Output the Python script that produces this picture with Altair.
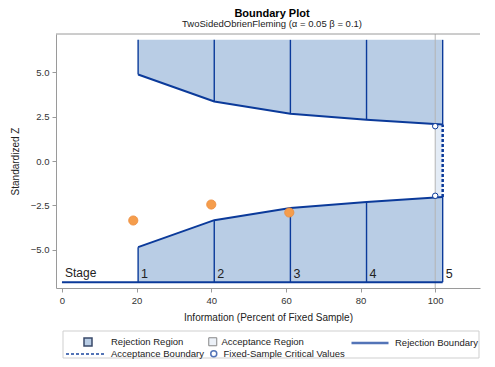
import altair as alt
import pandas as pd

# ---------------- data ----------------
stage_info = [20.4, 40.8, 61.2, 81.6, 102.0]
upper_bound = [4.87, 3.35, 2.66, 2.32, 2.05]
lower_bound = [-4.85, -3.33, -2.65, -2.31, -2.03]
stage_labels = ["1", "2", "3", "4", "5"]
region_limit = 6.82
stage_axis_start = 0
fixed_info = 100
fixed_crit = [1.96, -1.96]
obs_info = [19.1, 40.0, 60.9]
obs_z = [-3.35, -2.45, -2.90]
x_ticks = [0, 20, 40, 60, 80, 100]
y_ticks = [-5, -2.5, 0, 2.5, 5]
legend_items = ["Rejection Region", "Acceptance Region", "Rejection Boundary",
                "Acceptance Boundary", "Fixed-Sample Critical Values"]

# ---------------- styling ----------------
W, H = 424, 254
BLUE = "#0b3a9a"
FILL = "#b9cde5"
PALE = "#e4ecf6"
GRAY = "#9a9a9a"
FONT = "Liberation Sans"
LFS = 9.5

stages = pd.DataFrame({"info": stage_info, "upper": upper_bound, "lower": lower_bound,
                       "label": stage_labels, "top": region_limit, "bottom": -region_limit})
final = pd.DataFrame({"x0": [fixed_info], "x1": [stage_info[-1]],
                      "lo": [lower_bound[-1]], "hi": [upper_bound[-1]]})
baseline = pd.DataFrame({"x0": [stage_axis_start], "x1": [stage_info[-1]],
                         "y": [-region_limit], "label": ["Stage"]})
crit = pd.DataFrame({"info": [fixed_info] * len(fixed_crit), "z": fixed_crit})
obs = pd.DataFrame({"info": obs_info, "z": obs_z})
leg = pd.DataFrame({"item": legend_items})

xs = alt.Scale(domain=[-1.6, 112], nice=False, zero=False)
ys = alt.Scale(domain=[-7.15, 7.15], nice=False, zero=False)
x_axis = alt.Axis(values=x_ticks, format="d", title="Information (Percent of Fixed Sample)")
y_axis = alt.Axis(values=y_ticks, format=".1f", title="Standardized Z")


def X(f):
    return alt.X(f, scale=xs, axis=x_axis)


def Y(f):
    return alt.Y(f, scale=ys, axis=y_axis)


upper_area = alt.Chart(stages).mark_area(color=FILL, opacity=1).encode(
    x=X("info:Q"), y=Y("upper:Q"), y2="top:Q")
lower_area = alt.Chart(stages).mark_area(color=FILL, opacity=1).encode(
    x=X("info:Q"), y=Y("bottom:Q"), y2="lower:Q")

accept = alt.Chart(final).mark_rect(color=PALE, opacity=1).encode(
    x=X("x0:Q"), x2="x1:Q", y=Y("lo:Q"), y2="hi:Q")

ref_line = alt.Chart(crit.head(1)).mark_rule(color="#b4b4b4", strokeWidth=1).encode(
    x=X("info:Q"))

upper_line = alt.Chart(stages).mark_line(color=BLUE, strokeWidth=2).encode(
    x=X("info:Q"), y=Y("upper:Q"))
lower_line = alt.Chart(stages).mark_line(color=BLUE, strokeWidth=2).encode(
    x=X("info:Q"), y=Y("lower:Q"))

stage_up = alt.Chart(stages).mark_rule(color=BLUE, strokeWidth=1.4).encode(
    x=X("info:Q"), y=Y("upper:Q"), y2="top:Q")
stage_dn = alt.Chart(stages).mark_rule(color=BLUE, strokeWidth=1.4).encode(
    x=X("info:Q"), y=Y("bottom:Q"), y2="lower:Q")

base_rule = alt.Chart(baseline).mark_rule(color=BLUE, strokeWidth=2).encode(
    x=X("x0:Q"), x2="x1:Q", y=Y("y:Q"))

accept_bound = alt.Chart(final).mark_rule(color=BLUE, strokeWidth=2.5, strokeDash=[3, 2]).encode(
    x=X("x1:Q"), y=Y("lo:Q"), y2="hi:Q")

crit_pts = alt.Chart(crit).mark_point(shape="circle", size=30, color=BLUE, filled=False,
                                      strokeWidth=1, fill="white", fillOpacity=1).encode(
    x=X("info:Q"), y=Y("z:Q"))

obs_pts = alt.Chart(obs).mark_circle(size=85, color="#f59d4c", opacity=1,
                                     stroke="#ec8a3a", strokeWidth=0.8).encode(
    x=X("info:Q"), y=Y("z:Q"))

stage_text = alt.Chart(baseline).mark_text(align="left", baseline="alphabetic", dx=3, dy=-5,
                                           fontSize=12, font=FONT, color="#222").encode(
    x=X("x0:Q"), y=Y("y:Q"), text="label:N")
stage_nums = alt.Chart(stages).mark_text(align="left", baseline="alphabetic", dx=3, dy=-4,
                                         fontSize=12.5, font=FONT, color="#222").encode(
    x=X("info:Q"), y=Y("bottom:Q"), text="label:N")

top_frame = alt.Chart(leg.head(1)).mark_rule(color=GRAY, strokeWidth=1).encode(
    x=alt.value(0), x2=alt.value(W), y=alt.value(0))

legend_box = alt.Chart(leg.head(1)).mark_rect(fill="white", fillOpacity=0, stroke="#cfcfcf",
                                              strokeWidth=1).encode(
    x=alt.value(7), x2=alt.value(423), y=alt.value(297), y2=alt.value(324))


# ---------------- legend: one library legend per entry ----------------
def leg_common(**kw):
    base = dict(orient="none", title=None, padding=0, labelFont=FONT, labelFontSize=LFS,
                labelColor="#222")
    base.update(kw)
    return alt.Legend(**base)


empty = alt.Chart(leg).transform_filter("false")

leg_rej_region = empty.mark_point(shape="square", filled=True, fill=FILL, stroke="#3a4a6a",
                                  strokeWidth=1, opacity=1).encode(
    opacity=alt.Opacity("item:N", scale=alt.Scale(type="ordinal", domain=[legend_items[0]], range=[1]),
                        legend=leg_common(legendX=27, legendY=303, symbolType="square",
                                          symbolSize=64, labelOffset=18)))

leg_acc_region = empty.mark_point(shape="square", filled=True, stroke="#555555",
                                  strokeWidth=1).encode(
    color=alt.Color("item:N", scale=alt.Scale(domain=[legend_items[1]], range=[PALE]),
                    legend=leg_common(legendX=152, legendY=303, symbolType="square",
                                      symbolSize=64, labelOffset=4,
                                      symbolStrokeColor="#555555", symbolStrokeWidth=1)))

leg_rej_bound = empty.mark_point(shape="stroke", filled=False, stroke=BLUE).encode(
    strokeWidth=alt.StrokeWidth("item:N", scale=alt.Scale(type="ordinal", domain=[legend_items[2]], range=[2.5]),
                                legend=leg_common(legendX=294, legendY=289, symbolType="stroke",
                                                  symbolSize=1369, labelOffset=5,
                                                  symbolStrokeColor=BLUE)))

leg_acc_bound = empty.mark_point(shape="stroke", filled=False, stroke=BLUE, strokeWidth=2).encode(
    strokeDash=alt.StrokeDash("item:N", scale=alt.Scale(domain=[legend_items[3]], range=[[3, 2]]),
                              legend=leg_common(legendX=9, legendY=300, symbolType="stroke",
                                                symbolSize=1444, labelOffset=6,
                                                symbolStrokeColor=BLUE, symbolStrokeWidth=2)))

leg_fixed = empty.mark_point(shape="circle", filled=True, fill="white", stroke=BLUE,
                             strokeWidth=1.2).encode(
    size=alt.Size("item:N", scale=alt.Scale(type="ordinal", domain=[legend_items[4]], range=[36]),
                  legend=leg_common(legendX=153, legendY=315, symbolType="circle",
                                    labelOffset=5)))

chart = alt.layer(
    upper_area, lower_area, accept, ref_line, upper_line, lower_line,
    stage_up, stage_dn, base_rule, accept_bound, crit_pts, obs_pts,
    stage_text, stage_nums, top_frame, legend_box,
    leg_rej_region, leg_acc_region, leg_rej_bound, leg_acc_bound, leg_fixed,
).properties(
    width=W, height=H,
    title=alt.TitleParams("Boundary Plot",
                          subtitle="TwoSidedObrienFleming (α = 0.05  β = 0.1)",
                          font=FONT, fontSize=11, fontWeight="bold", color="#000",
                          subtitleFont=FONT, subtitleFontSize=9.5, subtitleColor="#222",
                          subtitlePadding=0, anchor="middle", offset=5, dx=4),
    autosize=alt.AutoSizeParams(type="none"),
    padding={"left": 48, "top": 26, "right": 7, "bottom": 71},
).configure_view(stroke=None).configure_axis(
    grid=False, domainColor=GRAY, tickColor=GRAY, tickSize=4,
    labelFont=FONT, labelFontSize=9.5, labelColor="#333", labelPadding=3,
    titleFont=FONT, titleFontSize=10, titleColor="#222", titleFontWeight="normal",
).configure_axisY(titlePadding=10).configure_axisX(titlePadding=8)

chart.save("out.html", embed_options={"renderer": "svg", "actions": False})
